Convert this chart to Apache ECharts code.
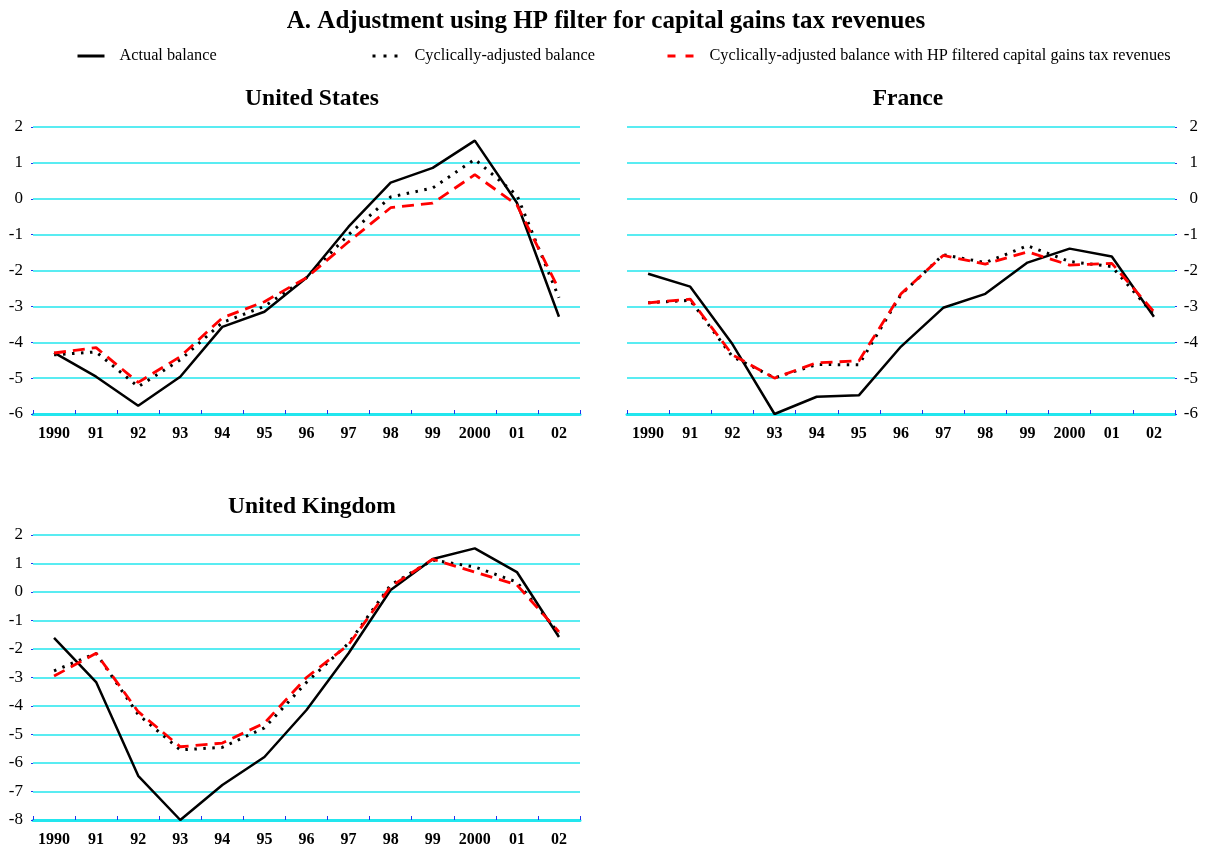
<!DOCTYPE html>
<html><head><meta charset="utf-8">
<script src="https://cdn.jsdelivr.net/npm/echarts@6/dist/echarts.min.js"></script>
<style>html,body{margin:0;padding:0;background:#fff}#c{width:1212px;height:849px}</style>
</head><body><div id="c"></div>
<script>
const years = ['1990','91','92','93','94','95','96','97','98','99','2000','01','02'];
const seriesNames = ['Actual balance','Cyclically-adjusted balance','Cyclically-adjusted balance with HP filtered capital gains tax revenues'];

const usActual = [-4.29,-4.96,-5.77,-4.96,-3.57,-3.15,-2.2,-0.78,0.45,0.86,1.62,-0.11,-3.29];
const usCyclical = [-4.35,-4.27,-5.24,-4.49,-3.45,-3.0,-2.2,-1.0,0.05,0.3,1.1,0.1,-2.76];
const usHP = [-4.3,-4.15,-5.12,-4.4,-3.32,-2.87,-2.2,-1.2,-0.25,-0.12,0.67,-0.17,-2.53];

const frActual = [-2.09,-2.45,-4.05,-6.0,-5.52,-5.48,-4.12,-3.04,-2.65,-1.78,-1.39,-1.61,-3.29];
const frCyclical = [-2.9,-2.83,-4.4,-4.99,-4.62,-4.63,-2.67,-1.56,-1.78,-1.31,-1.75,-1.89,-3.23];
const frHP = [-2.9,-2.8,-4.35,-5.0,-4.57,-4.52,-2.65,-1.58,-1.82,-1.48,-1.85,-1.8,-3.15];

const ukActual = [-1.61,-3.16,-6.45,-8.0,-6.77,-5.79,-4.14,-2.15,0.07,1.16,1.53,0.7,-1.58];
const ukCyclical = [-2.77,-2.15,-4.3,-5.54,-5.45,-4.77,-3.17,-1.8,0.25,1.12,0.88,0.35,-1.45];
const ukHP = [-2.95,-2.15,-4.2,-5.43,-5.3,-4.6,-3.0,-1.85,0.19,1.15,0.7,0.25,-1.4];

const mainTitle = 'A. Adjustment using HP filter for capital gains tax revenues';
const panelTitles = ['United States','France','United Kingdom'];

const FONT = '"Liberation Serif","Times New Roman",serif';
const GRIDC = '#22E6EE';
const TICKC = '#2233EE';

const chart = echarts.init(document.getElementById('c'));

const grids = [
  {left:33, width:547, top:127, height:287},
  {left:627, width:548, top:127, height:287},
  {left:33, width:547, top:535, height:285}
];

function xAxis(i){
  return {type:'category', gridIndex:i, data:years, boundaryGap:true,
    axisLine:{show:true, onZero:false, lineStyle:{color:GRIDC, width:3}},
    axisTick:{show:true, inside:true, length:4, lineStyle:{color:TICKC, width:1}},
    axisLabel:{fontFamily:FONT, fontSize:16, fontWeight:'bold', color:'#000', margin:12},
    splitLine:{show:false}};
}
function yAxis(i, min, pos, align, margin){
  return {type:'value', gridIndex:i, min:min, max:2, interval:1, position:pos,
    axisLine:{show:false},
    axisTick:{show:true, length:2, lineStyle:{color:TICKC}},
    axisLabel:{fontFamily:FONT, fontSize:17, color:'#000', align:align, margin:margin},
    splitLine:{show:true, lineStyle:{color:GRIDC, width:1.5}}};
}
function mk(name, data, i, kind){
  const base = {name:name, type:'line', xAxisIndex:i, yAxisIndex:i, data:data,
    symbol:'none', animation:false, z: kind==='hp'?4:(kind==='cyc'?3:2)};
  if(kind==='act') base.lineStyle = {color:'#000', width:2.5, type:'solid'};
  if(kind==='cyc') base.lineStyle = {color:'#000', width:3, type:[2.5,6.5], cap:'butt'};
  if(kind==='hp') base.lineStyle = {color:'#FF0000', width:2.8, type:[12,7], cap:'butt'};
  base.itemStyle = {color: base.lineStyle.color};
  return base;
}

const series = [];
[[usActual,usCyclical,usHP],[frActual,frCyclical,frHP],[ukActual,ukCyclical,ukHP]].forEach((arr,i)=>{
  series.push(mk(seriesNames[0], arr[0], i, 'act'));
  series.push(mk(seriesNames[1], arr[1], i, 'cyc'));
  series.push(mk(seriesNames[2], arr[2], i, 'hp'));
});

const legendLeft = [76, 371, 666];
const legendLine = [
  {color:'#000', width:3, type:'solid'},
  {color:'#000', width:3, type:[3,8], cap:'butt'},
  {color:'#FF0000', width:3, type:[8,10], cap:'butt'}
];
const legends = seriesNames.map((n,k)=>({
  data:[n], left:legendLeft[k], top:48, padding:0, itemWidth:27, itemHeight:16, selectedMode:false,
  itemStyle:{opacity:0}, lineStyle:legendLine[k],
  textStyle:{fontFamily:FONT, fontSize:16.3, color:'#000', padding:[0,0,0,10]}
}));

chart.setOption({
  animation:false,
  title:[
    {text:mainTitle, left:'center', top:4, textStyle:{fontFamily:FONT, fontSize:25, fontWeight:'bold', color:'#000'}},
    {text:panelTitles[0], left:307, textAlign:'center', top:82, textStyle:{fontFamily:FONT, fontSize:23.5, fontWeight:'bold', color:'#000'}},
    {text:panelTitles[1], left:903, textAlign:'center', top:82, textStyle:{fontFamily:FONT, fontSize:23.5, fontWeight:'bold', color:'#000'}},
    {text:panelTitles[2], left:307, textAlign:'center', top:490, textStyle:{fontFamily:FONT, fontSize:23.5, fontWeight:'bold', color:'#000'}}
  ],
  legend:legends,
  grid:grids,
  xAxis:[xAxis(0), xAxis(1), xAxis(2)],
  yAxis:[yAxis(0,-6,'left','right',10), yAxis(1,-6,'right','right',23), yAxis(2,-8,'left','right',10)],
  series:series
});
</script></body></html>
